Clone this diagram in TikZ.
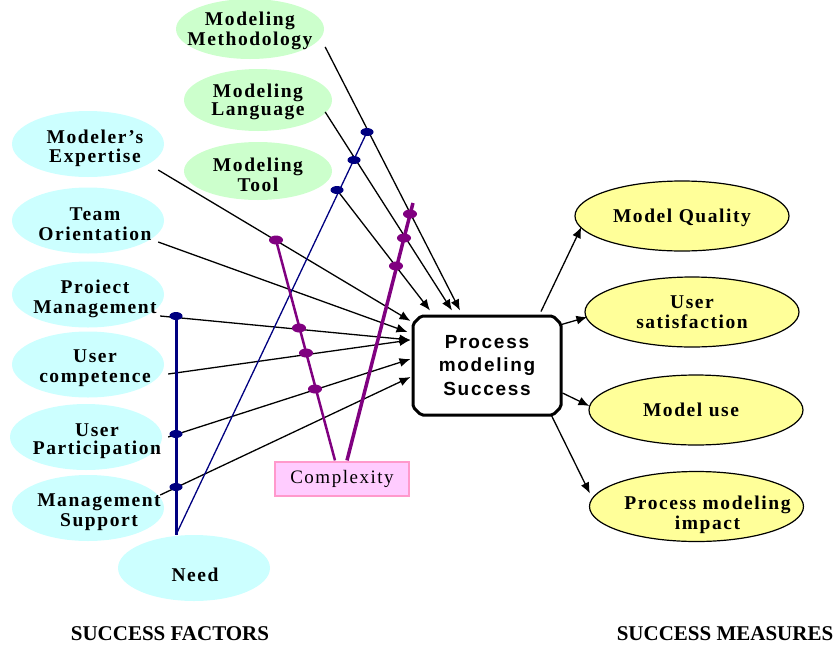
\documentclass[tikz,border=0pt]{standalone}
\usepackage{fontspec}
\setmainfont{Liberation Serif}
\newfontfamily\spacedserif{Liberation Serif}[LetterSpace=8]
\newfontfamily\spacedsans{Liberation Sans}[LetterSpace=9]
\usetikzlibrary{shapes.geometric,shapes.misc,arrows.meta,calc}
\definecolor{factorcyan}{RGB}{204,255,255}
\definecolor{toolgreen}{RGB}{204,255,204}
\definecolor{measureyellow}{RGB}{255,255,153}
\definecolor{cxpink}{RGB}{255,204,255}
\definecolor{cxborder}{RGB}{255,153,204}
\definecolor{navyblue}{RGB}{0,0,128}
\definecolor{plum}{RGB}{128,0,128}

\begin{document}
\begin{tikzpicture}[x=1pt,y=-1pt,
    ftext/.style={align=center,font=\fontsize{19.5}{20}\selectfont\spacedserif\bfseries,
      xshift=7pt,yshift=-4pt},
    factor/.style={ellipse,fill=factorcyan,minimum width=152pt,minimum height=66pt,inner sep=0pt},
    modelfactor/.style={ellipse,fill=toolgreen,minimum width=148pt,minimum height=60pt,inner sep=0pt},
    measure/.style={ellipse,draw,line width=1.2pt,fill=measureyellow,
      minimum width=214pt,minimum height=70pt,inner sep=0pt},
    conn/.style={-{Latex[length=11pt,width=9pt]},line width=1.3pt},
    ndot/.style={ellipse,fill=navyblue,minimum width=13pt,minimum height=8pt,inner sep=0pt},
    pdot/.style={ellipse,fill=plum,minimum width=14pt,minimum height=9pt,inner sep=0pt},
    head/.style={font=\fontsize{21}{24}\selectfont\bfseries}]
  \useasboundingbox (0,0) rectangle (836,646);

  % modelling factors (green)
  \node[modelfactor,label={[ftext,xshift=-7pt,yshift=2pt]center:Modeling\\Methodology}] (meth) at (250,29) {};
  \node[modelfactor,minimum height=62pt,label={[ftext,xshift=-7pt,yshift=2pt]center:Modeling\\[-2pt]Language}] (lang) at (258,100) {};
  \node[modelfactor,minimum height=58pt,label={[ftext,xshift=-7pt]center:Modeling\\Tool}] (tool) at (258,171) {};

  % success factors (cyan)
  \node[factor,label={[ftext]center:Modeler’s\\[-1pt]Expertise}] (expert) at (88,144) {};
  \node[factor,label={[ftext]center:Team\\Orientation}] (team) at (88,220.5) {};
  \node[factor,label={[ftext]center:Proiect\\Management}] (project) at (88,294.5) {};
  \node[factor,label={[ftext]center:User\\competence}] (compet) at (88,364.5) {};
  \node[factor,label={[ftext,xshift=4pt]center:User\\[-2pt]Participation}] (partic) at (86,437) {};
  \node[factor,label={[ftext,xshift=4pt]center:Management\\Support}] (support) at (88,508) {};
  \node[factor,label={[ftext,xshift=-6pt,yshift=-3pt]center:Need}] (need) at (194,568) {};

  % central box and success measures
  \node[draw,line width=3pt,chamfered rectangle,chamfered rectangle xsep=4pt,
    chamfered rectangle ysep=4pt,rounded corners=2pt,minimum width=148pt,minimum height=99pt,inner sep=0pt,
    align=center,font=\fontsize{19}{23.5}\selectfont\spacedsans\bfseries] (box) at (487,365.5)
    {Process\\modeling\\Success};
  \node[measure,label={[ftext,xshift=-7pt,yshift=2pt]center:Model Quality}] (quality) at (682,216) {};
  \node[measure,label={[ftext,xshift=-7pt,yshift=4pt]center:User\\satisfaction}] (satisf) at (692,312) {};
  \node[measure,label={[ftext,xshift=-12pt,yshift=4pt]center:Model use}] (use) at (696,410) {};
  \node[measure,label={[ftext,xshift=4pt,yshift=-4pt]center:Process modeling\\impact}] (impact) at (696.5,506.5) {};

  \node[draw=cxborder,line width=1.2pt,fill=cxpink,minimum width=134pt,minimum height=34pt,
    inner sep=0pt,font=\fontsize{19}{20}\selectfont\spacedserif] (cx) at (342,479) {Complexity};

  % moderator points
  \coordinate (n1) at (176,316);
  \coordinate (n2) at (176,434);
  \coordinate (n3) at (176,487);
  \coordinate (n4) at (337,190);
  \coordinate (n5) at (354,160);
  \coordinate (n6) at (367,132);
  \coordinate (p1) at (276,240);
  \coordinate (p2) at (299,328);
  \coordinate (p3) at (306,353);
  \coordinate (p4) at (315,389);
  \coordinate (p5) at (410,214);
  \coordinate (p6) at (404,238);
  \coordinate (p7) at (396,266);
  \coordinate (needtop) at ($(need.north)+(-18,0)$);
  \coordinate (cxtop) at (413,203);

  % factors -> success
  \draw[conn] ($(meth.east)+(1,18)$) -- ($(box.north)+(-27,-4)$);
  \draw[conn] ($(lang.east)+(-7,12)$) -- ($(box.north)+(-35,-4)$);
  \draw[conn] (n4) -- ($(box.north)+(-57,-4)$);
  \draw[conn] ($(expert.east)+(-6,26)$) -- ($(box.west)+(-1,-44.5)$);
  \draw[conn] ($(team.east)+(-6,21.5)$) -- ($(box.west)+(-4,-33.5)$);
  \draw[conn] ($(project.east)+(-4,21.5)$) -- ($(box.west)+(-1,-25.5)$);
  \draw[conn] ($(compet.east)+(4,9.5)$) -- ($(box.west)+(-1,-25.5)$);
  \draw[conn] ($(partic.east)+(6,0)$) -- ($(box.west)+(-1,-6.5)$);
  \draw[conn] ($(support.east)+(-4,-13)$) -- ($(box.west)+(-1,11.5)$);

  % success -> measures
  \draw[conn] ($(box.north)+(54,-3)$) -- ($(quality.west)+(7,11)$);
  \draw[conn] ($(box.east)+(-1,-41)$) -- ($(satisf.west)+(3,5)$);
  \draw[conn] ($(box.east)+(0,27.5)$) -- ($(use.west)+(1,-4)$);
  \draw[conn] ($(box.south)+(64,-2)$) -- ($(impact.west)+(1,-13)$);

  % need and complexity lines
  \draw[navyblue,line width=3pt] (n1) -- (needtop);
  \draw[navyblue,line width=1.3pt] (needtop) -- (n6);
  \draw[plum,line width=2.5pt] ($(cx.north)+(-7,-1)$) -- (p1);
  \draw[plum,line width=3.5pt] ($(cx.north)+(5,-1)$) -- (cxtop);
  \foreach \p in {n1,n2,n3,n4,n5,n6} \node[ndot] at (\p) {};
  \foreach \p in {p1,p2,p3,p4,p5,p6,p7} \node[pdot] at (\p) {};

  \node[head] (factorshead) at (170,634) {SUCCESS FACTORS};
  \node[head] (measureshead) at (725,634) {SUCCESS MEASURES};
\end{tikzpicture}
\end{document}
